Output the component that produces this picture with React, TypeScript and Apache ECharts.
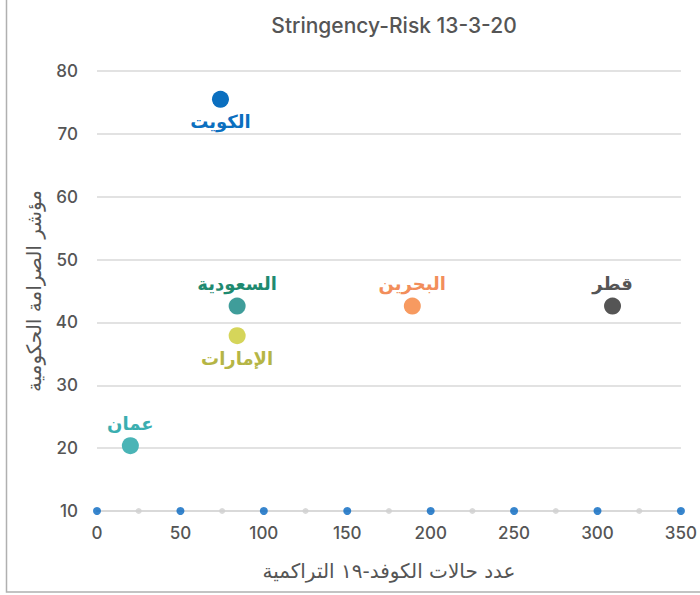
import React, { useEffect, useRef } from "react";
import * as echarts from "echarts";

const title = "Stringency-Risk 13-3-20";
const xAxisName = "عدد حالات الكوفد-١٩ التراكمية";
const yAxisName = "مؤشر الصرامة الحكومية";

const countries = ["الكويت", "السعودية", "الإمارات", "البحرين", "قطر", "عمان"];
const cases = [74, 84, 84, 189, 309, 20];
const stringency = [75.5, 42.6, 37.9, 42.6, 42.6, 20.4];
const markerColors = ["#0b6fbf", "#3f9d9a", "#d5d55a", "#f79a60", "#555555", "#4ab4b6"];
const labelColors = ["#0b6fbf", "#1f8a70", "#b5b545", "#f28e5b", "#555555", "#3aaeb0"];
const labelPositions = ["bottom", "top", "bottom", "top", "top", "top"];

const majorTicks = [0, 50, 100, 150, 200, 250, 300, 350];
const minorTicks = [25, 75, 125, 175, 225, 275, 325];

const FONT = "Inter, 'Noto Sans', 'DejaVu Sans', sans-serif";
const AR_FONT = "'DejaVu Sans', 'Noto Sans', sans-serif";

export default function App() {
  const ref = useRef<HTMLDivElement>(null);
  useEffect(() => {
    const chart = echarts.init(ref.current!, null, { renderer: "svg" });
    const countrySeries = countries.map((c, i) => ({
      type: "scatter",
      name: c,
      data: [[cases[i], stringency[i]]],
      symbolSize: 17,
      itemStyle: { color: markerColors[i], opacity: 1 },
      label: {
        show: true,
        position: labelPositions[i],
        distance: 5,
        formatter: c,
        color: labelColors[i],
        fontFamily: AR_FONT,
        fontSize: 18,
        fontWeight: "bold",
      },
      z: 5,
    }));
    chart.setOption({
      animation: false,
      backgroundColor: "#ffffff",
      title: {
        text: title,
        left: 389,
        textAlign: "center",
        top: 10,
        textStyle: { color: "#555", fontSize: 21, fontWeight: 500, fontFamily: FONT },
      },
      grid: { left: 97, right: 19, top: 71, bottom: 84 },
      xAxis: {
        type: "value",
        min: 0,
        max: 350,
        interval: 50,
        name: xAxisName,
        nameLocation: "middle",
        nameGap: 50,
        nameTextStyle: { color: "#555", fontSize: 20, fontFamily: AR_FONT },
        axisLine: { show: true, lineStyle: { color: "#d9d9d9", width: 2 } },
        axisTick: { show: false },
        splitLine: { show: false },
        axisLabel: { color: "#555", fontSize: 17, fontWeight: 500, fontFamily: FONT, margin: 13 },
      },
      yAxis: {
        type: "value",
        min: 10,
        max: 80,
        interval: 10,
        name: yAxisName,
        nameLocation: "middle",
        nameGap: 53,
        nameRotate: 90,
        nameTextStyle: { color: "#555", fontSize: 20, fontFamily: AR_FONT },
        axisLine: { show: false },
        axisTick: { show: false },
        splitLine: { show: true, lineStyle: { color: "#d9d9d9", width: 1.5 } },
        axisLabel: { color: "#555", fontSize: 17, fontWeight: 500, fontFamily: FONT, margin: 19 },
      },
      graphic: [
        {
          type: "rect",
          shape: { x: 6.5, y: -2, width: 720, height: 594 },
          style: { fill: "none", stroke: "#b0b0b0", lineWidth: 1.5 },
          silent: true,
        },
      ],
      series: [
        {
          type: "scatter",
          data: minorTicks.map((v) => [v, 10]),
          symbolSize: 6,
          itemStyle: { color: "#d0d0d0" },
          clip: false,
          silent: true,
          z: 3,
        },
        {
          type: "scatter",
          data: majorTicks.map((v) => [v, 10]),
          symbolSize: 8,
          itemStyle: { color: "#0566c0" },
          clip: false,
          silent: true,
          z: 3,
        },
        ...countrySeries,
      ],
    });
    return () => chart.dispose();
  }, []);
  return (
    <div
      ref={ref}
      style={{ position: "fixed", left: 0, top: 0, width: 700, height: 595 }}
    />
  );
}
